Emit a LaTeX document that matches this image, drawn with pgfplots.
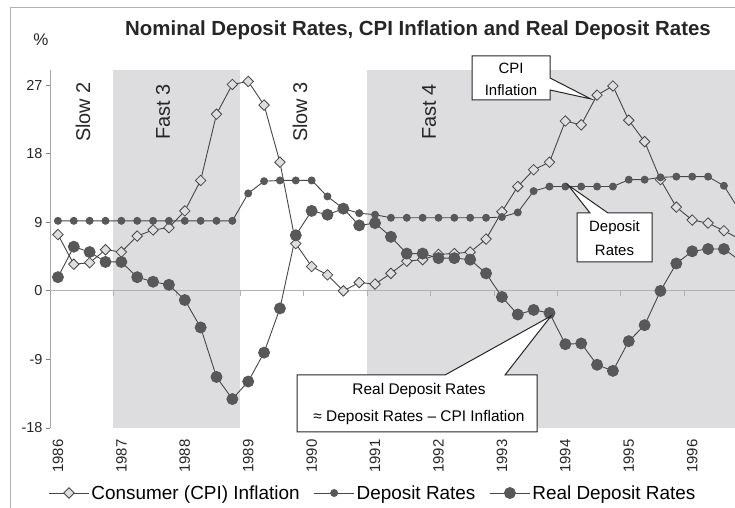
\documentclass[border=0pt]{standalone}
\usepackage{pgfplots}
\pgfplotsset{compat=1.18}
\usepackage{pgfplotstable}
\usepackage{fontspec}
\setmainfont{Liberation Sans}
\definecolor{shade}{RGB}{221,221,223}
\definecolor{linec}{RGB}{70,70,70}
\definecolor{dotc}{RGB}{88,88,88}
\definecolor{cpifill}{RGB}{222,222,222}
\pgfplotstableread{
i cpi dep real
0 7.4 9.2 1.8
1 3.5 9.2 5.8
2 3.7 9.2 5.1
3 5.4 9.2 3.8
4 5.1 9.2 3.8
5 7.2 9.2 1.8
6 8.0 9.2 1.2
7 8.3 9.2 0.8
8 10.5 9.2 -1.2
9 14.5 9.2 -4.8
10 23.2 9.2 -11.3
11 27.1 9.2 -14.2
12 27.5 12.8 -11.9
13 24.4 14.4 -8.1
14 16.9 14.5 -2.3
15 6.2 14.5 7.3
16 3.2 14.5 10.5
17 2.1 12.4 10.0
18 0.0 10.8 10.8
19 1.1 10.2 8.6
20 0.9 10.0 8.9
21 2.3 9.6 7.1
22 3.9 9.6 4.9
23 4.1 9.6 4.9
24 4.8 9.6 4.3
25 4.9 9.6 4.3
26 5.1 9.6 4.1
27 6.8 9.6 2.3
28 10.4 9.7 -0.8
29 13.7 10.3 -3.1
30 15.9 13.1 -2.5
31 16.9 13.7 -2.9
32 22.3 13.7 -7.0
33 21.8 13.7 -6.9
34 25.7 13.7 -9.7
35 26.9 13.7 -10.5
36 22.4 14.6 -6.6
37 19.6 14.6 -4.5
38 14.6 14.9 0.0
39 11.0 15.0 3.6
40 9.3 15.0 5.2
41 8.9 15.0 5.5
42 7.9 13.8 5.5
43 6.8 10.5 4.0
}\data
\begin{document}
\begin{tikzpicture}
\begin{axis}[
  at={(50bp,80bp)}, anchor=south west,
  scale only axis, width=685bp, height=358bp,
  xmin=-0.5, xmax=42.7, ymin=-18, ymax=29,
  axis x line*=bottom, axis y line*=left,
  x axis line style={draw=none},
  y axis line style={draw=black!35, line width=0.8bp},
  xtick={0,4,8,12,16,20,24,28,32,36,40},
  xticklabels={1986,1987,1988,1989,1990,1991,1992,1993,1994,1995,1996},
  xtick style={draw=none},
  ytick={-18,-9,0,9,18,27},
  ytick style={draw=black!50, line width=0.8bp},
  tick align=outside,
  major tick length=4bp,
  /pgf/number format/assume math mode=true,
  xticklabel shift=4bp,
  x tick label style={rotate=90, anchor=east, font=\fontsize{15}{15}\selectfont, text=black!85},
  y tick label style={font=\fontsize{14.5}{14.5}\selectfont, text=black!85},
  clip=true,
  legend columns=-1,
  legend style={at={(0.4715,-0.1816)}, anchor=center, draw=none, fill=none,
    font=\fontsize{19}{19}\selectfont,
    /tikz/every even column/.append style={column sep=12bp}},
  legend image code/.code={\draw[mark repeat=2,mark phase=2] plot coordinates {(0bp,0bp)(20bp,0bp)(40bp,0bp)};},
]
\addplot[fill=shade, draw=none, forget plot] coordinates {(3.5,-18) (3.5,29) (11.5,29) (11.5,-18)} -- cycle;
\addplot[fill=shade, draw=none, forget plot] coordinates {(19.5,-18) (19.5,29) (43,29) (43,-18)} -- cycle;
\draw[black!30, line width=0.8bp] (axis cs:-0.5,0) -- (axis cs:42.7,0);
\pgfplotsinvokeforeach{3.5,7.5,11.5,15.5,19.5,23.5,27.5,31.5,35.5,39.5}{\draw[black!30, line width=0.8bp] (axis cs:#1,0) -- ++(0bp,-5bp);}
\addplot[linec, line width=0.9bp, mark=square*, mark size=3.7bp, mark options={rotate=45, fill=cpifill, draw=linec, line width=0.8bp}] table[x=i,y=cpi]{\data};
\addplot[linec, line width=0.9bp, mark=*, mark size=3.5bp, mark options={fill=dotc, draw=dotc}] table[x=i,y=dep]{\data};
\addplot[linec, line width=0.9bp, mark=*, mark size=5.5bp, mark options={fill=dotc, draw=dotc}] table[x=i,y=real]{\data};
\legend{Consumer (CPI) Inflation, Deposit Rates, Real Deposit Rates}
\end{axis}
% border
\draw[black!30, line width=1bp] (10bp,-5bp) -- (10bp,500bp) -- (745bp,500bp);
% title and unit
\node[font=\fontsize{20.5}{20.5}\selectfont\bfseries, text=black!85] at (418bp,478bp) {Nominal Deposit Rates, CPI Inflation and Real Deposit Rates};
\node[font=\fontsize{17}{17}\selectfont, text=black!85] at (41bp,468bp) {\%};
% phase labels
\foreach \t/\x in {Slow 2/83, Fast 3/163, Slow 3/300, Fast 4/429}
  \node[rotate=90, font=\fontsize{20}{20}\selectfont, text=black!85] at (\x bp,396bp) {\t};
% callouts
\draw[black!85, fill=white, line width=1bp] (472bp,452bp) -- (550bp,452bp) -- (550bp,430bp) -- (591bp,409bp) -- (550bp,418bp) -- (550bp,408bp) -- (472bp,408bp) -- cycle;
\node[font=\fontsize{15}{15}\selectfont] at (511bp,440bp) {CPI};
\node[font=\fontsize{15}{15}\selectfont] at (511bp,418bp) {Inflation};
\draw[black!85, fill=white, line width=1bp] (577bp,295bp) -- (590bp,295bp) -- (568bp,323bp) -- (608bp,295bp) -- (652bp,295bp) -- (652bp,246bp) -- (577bp,246bp) -- cycle;
\node[font=\fontsize{15}{15}\selectfont] at (614.5bp,280bp) {Deposit};
\node[font=\fontsize{15}{15}\selectfont] at (614.5bp,258bp) {Rates};
\draw[black!85, fill=white, line width=1bp] (297bp,133bp) -- (445bp,133bp) -- (551bp,192bp) -- (505bp,133bp) -- (537bp,133bp) -- (537bp,76bp) -- (297bp,76bp) -- cycle;
\node[font=\fontsize{15.5}{15.5}\selectfont] at (419bp,117bp) {Real Deposit Rates};
\node[font=\fontsize{15.5}{15.5}\selectfont] at (419bp,90bp) {≈ Deposit Rates – CPI Inflation};
\pgfresetboundingbox
\path (0bp,0bp) rectangle (735bp,508bp);
\end{tikzpicture}
\end{document}
